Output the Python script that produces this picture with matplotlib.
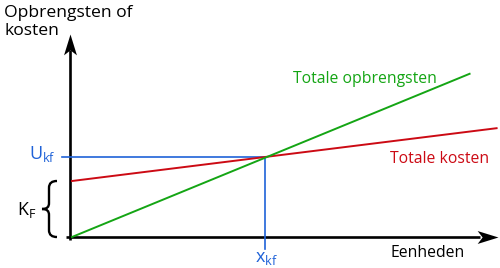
import matplotlib
matplotlib.use('Agg')
import matplotlib.pyplot as plt
import numpy as np
from matplotlib.path import Path
from matplotlib.patches import PathPatch

# data (units)
eenheden_opb = [0, 206]
opbrengsten = [0, 204]
eenheden_kost = [0, 220]
kosten = [70, 136]
x_kf = 100
u_kf = 100
k_f = 70

green = '#14a514'
red = '#cc0a14'
blue = '#1f62d8'

plt.rcParams['font.family'] = ['Open Sans', 'DejaVu Sans']
plt.rcParams['mathtext.fontset'] = 'custom'
plt.rcParams['mathtext.rm'] = 'Open Sans'
plt.rcParams['mathtext.it'] = 'Open Sans'

# pixel scale: 1 unit x = 1.93 px, 1 unit y = 0.8 px, origin at px (72, 237)
sx = 1.93
sy = 0.8
x0, y0 = 72, 237

def ux(px):
    return (px - x0) / sx

def uy(py):
    return (y0 - py) / sy

fig = plt.figure(figsize=(5, 2.68), dpi=100)
ax = fig.add_axes([0, 0, 1, 1])
ax.set_xlim(ux(0), ux(500))
ax.set_ylim(uy(268), uy(0))
ax.axis('off')

# axes
ax.plot([ux(70), ux(70)], [uy(240), uy(50)], color='black', lw=1.9, solid_capstyle='butt')
ax.plot([ux(66), ux(480)], [0, 0], color='black', lw=1.9, solid_capstyle='butt')

def head(direction):
    # concave arrowhead, tip at origin
    v = np.array([[0, 0], [-6.5, -21], [0, -16], [6.5, -21], [0, 0]])
    if direction == 'right':
        v = v[:, ::-1]
    return Path(v, [Path.MOVETO, Path.LINETO, Path.LINETO, Path.LINETO, Path.CLOSEPOLY])

ax.plot(ux(70), uy(34), marker=head('up'), ms=30, color='black', mec='black', mew=0)
ax.plot(ux(497.5), 0, marker=head('right'), ms=30, color='black', mec='black', mew=0)

# break-even helper lines
ax.plot([ux(62), x_kf], [u_kf, u_kf], color=blue, lw=1.2)
ax.plot([x_kf, x_kf], [u_kf, uy(249)], color=blue, lw=1.2)

# cost and revenue
ax.plot(eenheden_kost, kosten, color=red, lw=1.4)
ax.plot(eenheden_opb, opbrengsten, color=green, lw=1.4)

# brace for fixed costs (pixel outline, mapped to data units)
top_px = y0 - k_f * sy
bot_px = y0
mid_px = (top_px + bot_px) / 2
bpx = [
    (57, top_px), (52, top_px), (49, top_px + 2), (49, top_px + 7),
    (49, mid_px - 6),
    (49, mid_px - 2), (47, mid_px), (42, mid_px),
    (47, mid_px), (49, mid_px + 2), (49, mid_px + 6),
    (49, bot_px - 7),
    (49, bot_px - 2), (52, bot_px), (57, bot_px),
]
codes = [Path.MOVETO, Path.CURVE4, Path.CURVE4, Path.CURVE4,
         Path.LINETO,
         Path.CURVE4, Path.CURVE4, Path.CURVE4,
         Path.CURVE4, Path.CURVE4, Path.CURVE4,
         Path.LINETO,
         Path.CURVE4, Path.CURVE4, Path.CURVE4]
verts = [(ux(px), uy(py)) for px, py in bpx]
ax.add_patch(PathPatch(Path(verts, codes), fill=False, lw=1.7, ec='black', capstyle='butt'))

fs = 11.3
ax.text(ux(4), uy(17), 'Opbrengsten of', ha='left', va='baseline', fontsize=12.6)
ax.text(ux(4), uy(35), 'kosten', ha='left', va='baseline', fontsize=12.6)
ax.text(ux(56), uy(159), r'$\mathrm{U}_{\mathrm{kf}}$', color=blue, ha='right', va='baseline', fontsize=13)
ax.text(ux(17), uy(215), r'$\mathrm{K}_{\mathrm{F}}$', color='black', ha='left', va='baseline', fontsize=12.8)
ax.text(ux(255), uy(262), r'$\mathrm{x}_{\mathrm{kf}}$', color=blue, ha='left', va='baseline', fontsize=13)
ax.text(ux(390), uy(257), 'Eenheden', ha='left', va='baseline', fontsize=fs)
ax.text(ux(293), uy(83), 'Totale opbrengsten', color=green, ha='left', va='baseline', fontsize=fs)
ax.text(ux(390), uy(163), 'Totale kosten', color=red, ha='left', va='baseline', fontsize=fs)

fig.savefig('out.png', dpi=100)
